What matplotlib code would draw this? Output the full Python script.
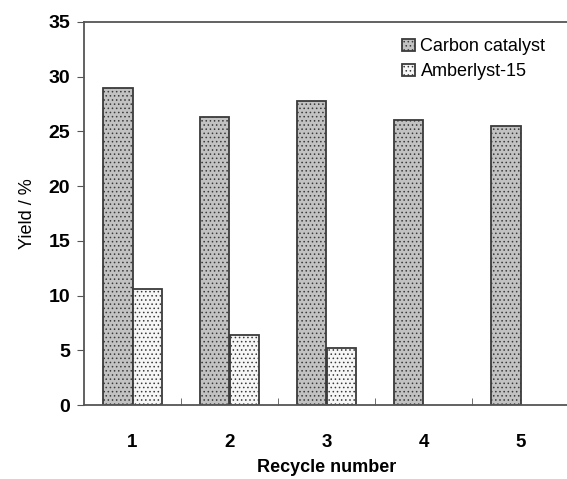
import numpy as np
import matplotlib.pyplot as plt

plt.rcParams['font.family'] = ['Liberation Sans', 'DejaVu Sans']
plt.rcParams['hatch.color'] = '#a8a8a8'
plt.rcParams['hatch.linewidth'] = 0.6

ciclos = ['1', '2', '3', '4', '5']
carbono = [29.0, 26.35, 27.8, 26.05, 25.5]
amberlyst = [10.6, 6.4, 5.2, 0, 0]

x = np.arange(len(ciclos))
ancho = 0.3

fig = plt.figure(figsize=(5.67, 4.79), dpi=100)
ax = fig.add_axes([84/567, 74/479, 485/567, 383/479])

ax.bar(x - ancho/2, carbono, ancho, color='#c2c2c2', edgecolor='#3a3a3a',
       linewidth=1.3, hatch='....', label='Carbon catalyst')
am = [v if v > 0 else np.nan for v in amberlyst]
ax.bar(x + ancho/2, am, ancho, color='#f6f6f6', edgecolor='#3a3a3a',
       linewidth=1.3, hatch='....', label='Amberlyst-15')

ax.set_xlim(-0.5, 4.5)
ax.set_ylim(0, 35)
ax.set_yticks(range(0, 36, 5))
ax.set_xticks(x)
ax.set_xticklabels(ciclos, fontweight='bold', fontsize=13.5)
ax.set_xticks(np.arange(0.5, 4.0, 1), minor=True)
ax.tick_params(axis='x', which='major', length=0, pad=21)
ax.tick_params(axis='x', which='minor', direction='in', length=5, color='#555555')
ax.tick_params(axis='y', direction='out', length=5, color='#555555',
               labelsize=14, pad=5)
for t in ax.get_yticklabels():
    t.set_fontweight('bold')

for s in ax.spines.values():
    s.set_color('#555555')
    s.set_linewidth(1.3)

ax.set_ylabel('Yield / %', fontsize=13, labelpad=9)
ax.set_xlabel('Recycle number', fontsize=13, fontweight='bold', labelpad=6)

ax.legend(loc='upper right', bbox_to_anchor=(0.985, 1.0), frameon=False,
          fontsize=13, handlelength=0.7, handleheight=0.7,
          handletextpad=0.3, labelspacing=0.45)

plt.savefig('out.png', dpi=100)
